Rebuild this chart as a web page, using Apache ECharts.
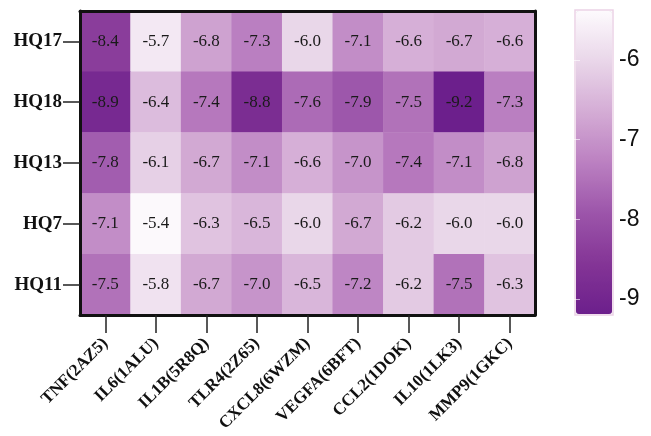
<!DOCTYPE html>
<html><head><meta charset="utf-8">
<script src="https://cdn.jsdelivr.net/npm/echarts@6/dist/echarts.min.js"></script>
<style>html,body{margin:0;padding:0;background:#fff}#c{width:651px;height:436px}</style>
</head><body><div id="c"></div>
<script>
const targets = ['TNF(2AZ5)','IL6(1ALU)','IL1B(5R8Q)','TLR4(2Z65)','CXCL8(6WZM)','VEGFA(6BFT)','CCL2(1DOK)','IL10(1LK3)','MMP9(1GKC)'];
const compounds = ['HQ17','HQ18','HQ13','HQ7','HQ11'];
const HQ17 = [-8.4,-5.7,-6.8,-7.3,-6.0,-7.1,-6.6,-6.7,-6.6];
const HQ18 = [-8.9,-6.4,-7.4,-8.8,-7.6,-7.9,-7.5,-9.2,-7.3];
const HQ13 = [-7.8,-6.1,-6.7,-7.1,-6.6,-7.0,-7.4,-7.1,-6.8];
const HQ7  = [-7.1,-5.4,-6.3,-6.5,-6.0,-6.7,-6.2,-6.0,-6.0];
const HQ11 = [-7.5,-5.8,-6.7,-7.0,-6.5,-7.2,-6.2,-7.5,-6.3];
const colorTicks = [-6,-7,-8,-9];
const scaleMin = -9.2, scaleMax = -5.375;

const rows = [HQ17,HQ18,HQ13,HQ7,HQ11];
const data = [];
rows.forEach((r,i)=>r.forEach((v,j)=>data.push([j,i,v])));

const chart = echarts.init(document.getElementById('c'));
const serif = 'Liberation Serif';
const frame = {show:true,lineStyle:{color:'#111',width:3}};
chart.setOption({
  animation:false,
  grid:[
    {left:80,top:11,width:455,height:304},
    {left:575,top:10,width:38,height:305,show:true,borderColor:'#ecd2e6',borderWidth:1.5,backgroundColor:'transparent'}
  ],
  xAxis:[
    {type:'category',data:targets,gridIndex:0,position:'bottom',z:10,
     axisLine:frame,
     axisTick:{show:true,alignWithLabel:true,length:18,lineStyle:{color:'#222',width:1.5}},
     axisLabel:{rotate:45,margin:26,fontFamily:serif,fontWeight:'bold',fontSize:17,color:'#111',interval:0},
     splitLine:{show:false}},
    {type:'category',data:targets,gridIndex:0,position:'top',z:10,
     axisLine:frame,axisTick:{show:false},axisLabel:{show:false}},
    {type:'value',gridIndex:1,show:false,min:0,max:1}
  ],
  yAxis:[
    {type:'category',data:compounds,inverse:true,gridIndex:0,position:'left',z:10,
     axisLine:frame,
     axisTick:{show:true,alignWithLabel:true,length:17,lineStyle:{color:'#222',width:1.5}},
     axisLabel:{margin:18,fontFamily:serif,fontWeight:'bold',fontSize:19,color:'#111'}},
    {type:'category',data:compounds,inverse:true,gridIndex:0,position:'right',z:10,
     axisLine:frame,axisTick:{show:false},axisLabel:{show:false}},
    {type:'value',gridIndex:1,position:'right',min:scaleMin,max:scaleMax,z:10,
     axisLine:{show:false},splitLine:{show:false},
     axisTick:{show:true,inside:true,length:5,customValues:colorTicks,lineStyle:{color:'rgba(255,255,255,0.6)',width:1}},
     axisLabel:{show:true,customValues:colorTicks,margin:6,fontFamily:'Liberation Sans',fontSize:23,color:'#111'}},
    {type:'value',gridIndex:1,position:'left',min:scaleMin,max:scaleMax,z:10,
     axisLine:{show:false},splitLine:{show:false},
     axisTick:{show:true,inside:true,length:5,customValues:colorTicks,lineStyle:{color:'rgba(255,255,255,0.6)',width:1}},
     axisLabel:{show:false}}
  ],
  visualMap:{
    type:'continuous',min:scaleMin,max:scaleMax,calculable:false,
    left:576,top:11,itemWidth:36,itemHeight:303,
    text:null,showLabel:false,padding:0,
    seriesIndex:0,
    inRange:{color:['#6c1f8c','#843596','#9c55aa','#bb80c1','#d4acd5','#e9d6e9','#fdfafd']},
    z:4
  },
  series:[{
    type:'heatmap',xAxisIndex:0,yAxisIndex:0,data:data,z:2,
    label:{show:true,fontFamily:serif,fontSize:17,color:'#1a1a1a',formatter:p=>p.value[2].toFixed(1)},
    itemStyle:{borderWidth:0},
    emphasis:{disabled:true}
  }]
});
</script></body></html>
